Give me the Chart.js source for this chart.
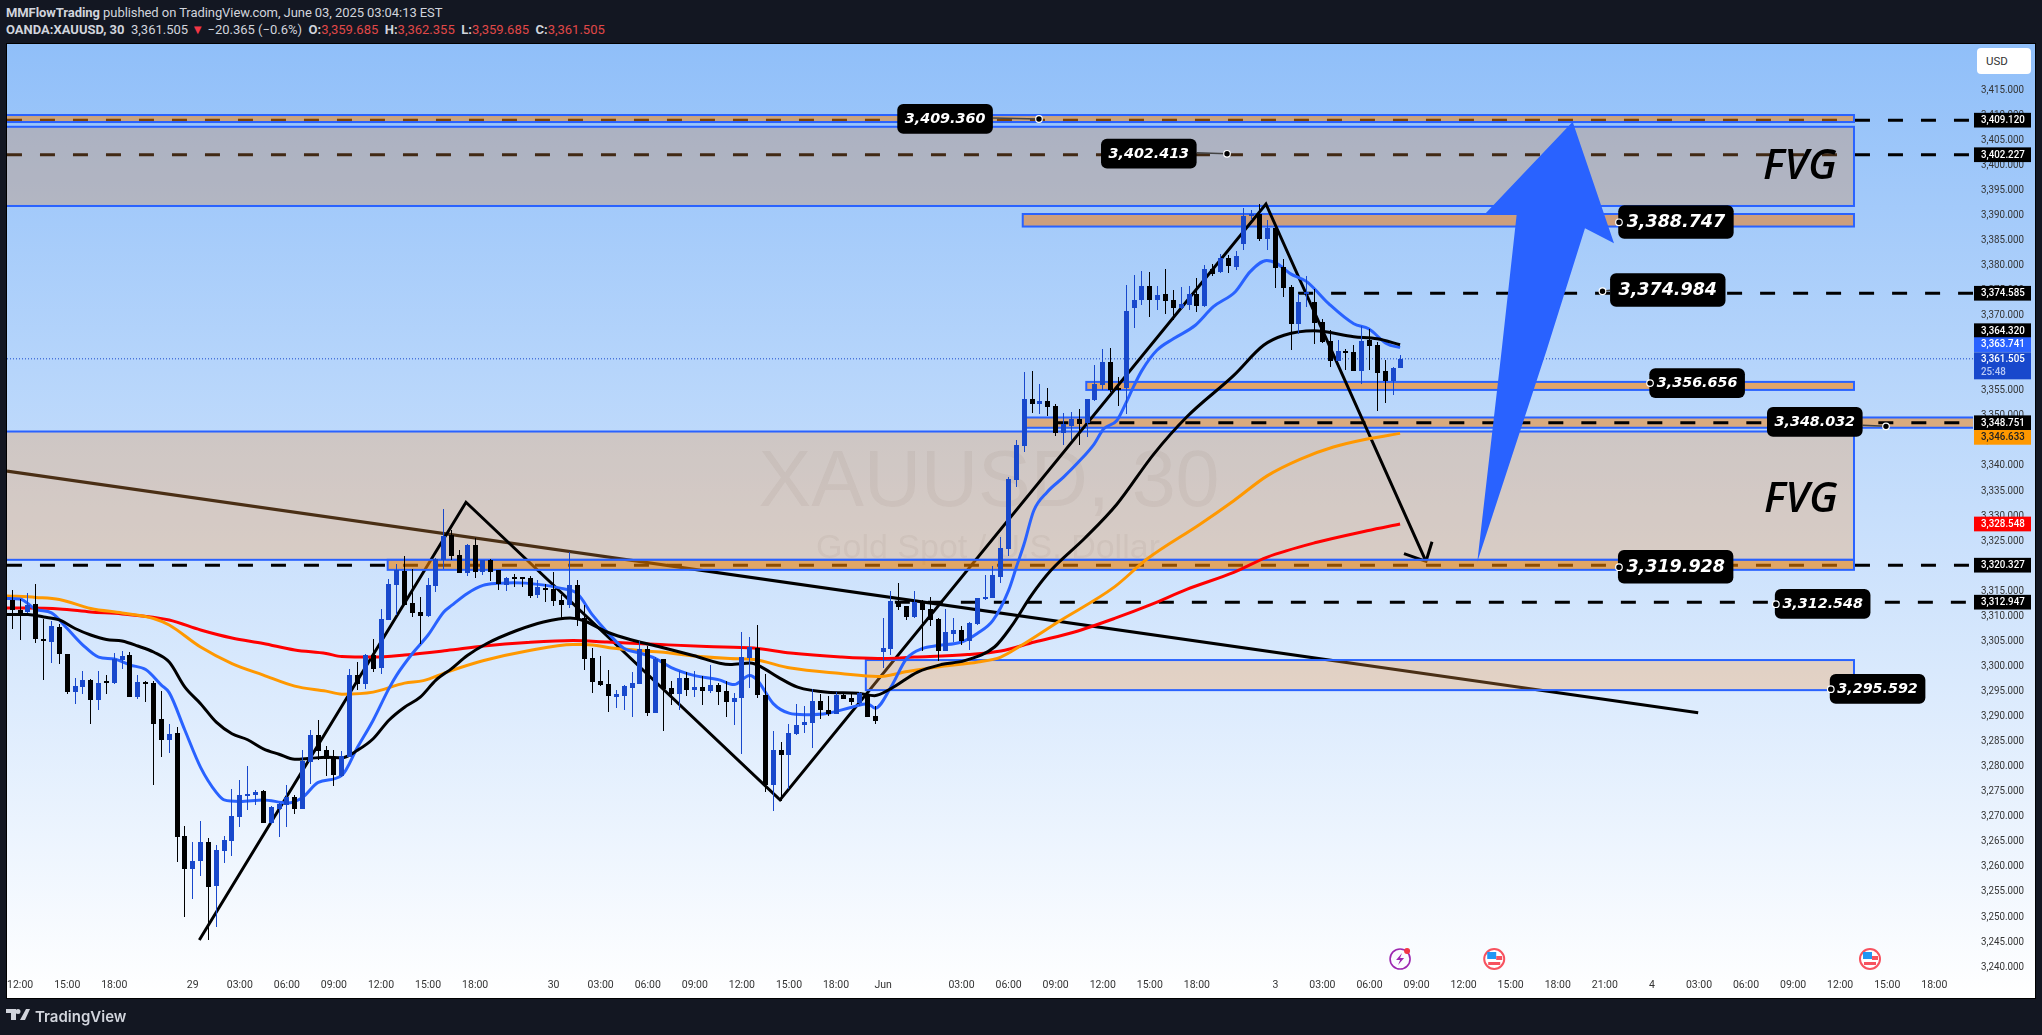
<!DOCTYPE html>
<html>
<head>
<meta charset="utf-8">
<title>XAUUSD 30</title>
<style>
html, body { margin: 0; padding: 0; background: #131722; width: 2042px; height: 1035px; overflow: hidden; }
#panel { position: absolute; left: 6px; top: 43px; width: 2028px; height: 954px; border: 1px solid #000;
	background: linear-gradient(to bottom, #90bff9 0%, #ffffff 100%); }
#chart { position: absolute; left: 0; top: 0; }
.head { position: absolute; left: 6px; font: 13px Roboto, sans-serif; color: #d1d4dc; white-space: nowrap; }
.head b { font-weight: 700; }
.head i { font-style: normal; color: #e04848; }
#usd { position: absolute; left: 1977px; top: 48px; width: 54px; height: 26px; background: #fff; border-radius: 4px;
	font: 11.5px Roboto, sans-serif; color: #333; line-height: 26px; text-indent: 9px; }
#logo { position: absolute; left: 6px; top: 1006px; }
#brand { position: absolute; left: 35px; top: 1007px; font: 600 15px Inter, sans-serif; color: #d1d4dc; }
</style>
</head>
<body>
<div id="panel"></div>
<div class="head" style="top:5px;letter-spacing:-.07px"><b>MMFlowTrading</b> published on TradingView.com, June 03, 2025 03:04:13 EST</div>
<div class="head" style="top:22px"><b>OANDA:XAUUSD, 30</b>&nbsp; 3,361.505 <span style="color:#f23645">&#9660;</span> &minus;20.365 (&minus;0.6%) &nbsp;<b>O:</b><i>3,359.685</i> &nbsp;<b>H:</b><i>3,362.355</i> &nbsp;<b>L:</b><i>3,359.685</i> &nbsp;<b>C:</b><i>3,361.505</i></div>
<canvas id="chart" width="2042" height="1035"></canvas>
<div id="usd">USD</div>
<svg id="logo" width="24" height="16" viewBox="0 0 24 16"><path fill="#d1d4dc" d="M0 3h10v11H5V7H0zM20 3h4l-5 11h-5zM12 3a2.5 2.5 0 1 1 0 5 2.5 2.5 0 0 1 0-5z"/></svg>
<div id="brand">TradingView</div>
<script src="https://cdn.jsdelivr.net/npm/chart.js@4/dist/chart.umd.js"></script>
<script>
// candles, 30 min bars
const opens = [3313.4,3311.4,3310.9,3312.6,3305.5,3305.1,3307.9,3302.7,3295.0,3296.0,
	3297.4,3293.4,3297.0,3296.8,3301.4,3302.4,3294.0,3297.0,3296.8,3289.6,
	3285.4,3286.8,3266.2,3259.7,3261.4,3265.0,3256.3,3263.4,3265.3,3270.0,
	3274.2,3274.4,3275.2,3268.9,3271.6,3272.4,3274.0,3271.6,3281.0,3286.4,
	3283.4,3281.9,3278.2,3282.1,3298.4,3296.6,3302.4,3299.8,3309.4,3316.3,
	3319.1,3312.7,3310.9,3310.1,3316.1,3321.4,3326.3,3322.3,3318.7,3324.3,
	3318.9,3321.3,3319.3,3316.3,3317.7,3317.9,3317.7,3314.3,3315.7,3315.5,
	3313.3,3312.3,3316.3,3309.7,3301.9,3297.3,3296.7,3294.1,3294.3,3295.9,
	3296.7,3303.7,3290.9,3301.7,3295.9,3294.7,3297.9,3295.5,3296.1,3295.3,
	3296.5,3295.3,3293.1,3293.9,3301.9,3303.9,3294.5,3276.5,3283.5,3282.5,
	3286.7,3288.5,3288.9,3293.3,3291.5,3290.7,3294.5,3293.9,3292.9,3294.5,
	3290.3,3303.1,3303.7,3313.1,3312.1,3309.9,3312.9,3311.5,3309.5,3303.3,
	3306.5,3307.3,3305.3,3308.5,3313.5,3313.7,3317.9,3323.6,3337.4,3344.2,
	3353.4,3352.4,3353.0,3352.0,3346.8,3348.2,3349.4,3348.6,3353.2,3356.2,
	3360.8,3355.7,3355.6,3371.6,3373.2,3376.0,3373.2,3374.4,3373.2,3371.6,
	3372.2,3374.4,3372.0,3379.4,3378.8,3381.6,3379.8,3384.4,3390.0,3390.4,
	3385.4,3387.6,3379.8,3375.8,3368.4,3374.4,3372.8,3368.8,3365.0,3361.0,
	3362.8,3362.8,3359.0,3365.2,3364.2,3359.0,3357.0,3359.685];
const closes = [3311.3,3310.7,3312.4,3305.7,3305.2,3308.2,3302.6,3295.0,3296.2,3297.4,
	3293.4,3296.8,3296.8,3301.6,3302.2,3294.0,3297.0,3296.7,3288.6,3285.4,
	3286.6,3266.1,3259.7,3261.4,3265.0,3256.1,3263.6,3265.4,3270.2,3274.4,
	3274.6,3275.0,3268.8,3272.0,3272.6,3274.0,3271.6,3281.3,3286.4,3283.2,
	3281.6,3278.4,3282.2,3298.4,3296.6,3302.4,3299.6,3309.6,3316.6,3319.3,
	3312.3,3310.7,3310.1,3316.3,3321.6,3326.1,3322.1,3318.7,3324.3,3318.9,
	3321.4,3318.9,3316.5,3317.7,3317.5,3317.5,3314.1,3315.9,3315.4,3313.1,
	3312.3,3316.3,3309.5,3301.7,3297.1,3296.5,3294.3,3294.7,3296.3,3296.9,
	3303.7,3290.9,3301.7,3295.7,3294.7,3297.9,3295.5,3296.1,3295.3,3296.5,
	3295.1,3293.1,3293.9,3302.1,3304.1,3294.5,3276.5,3283.5,3282.5,3286.9,
	3288.5,3289.1,3293.3,3291.5,3290.7,3294.5,3293.7,3293.1,3294.9,3290.1,
	3289.3,3303.9,3313.1,3311.9,3309.9,3312.9,3311.3,3309.3,3303.3,3306.9,
	3307.3,3305.3,3308.7,3313.7,3313.9,3318.3,3323.7,3337.6,3344.4,3353.4,
	3352.4,3353.0,3351.8,3346.8,3348.4,3349.4,3348.4,3353.4,3356.4,3360.8,
	3355.2,3355.2,3371.0,3373.2,3376.0,3373.2,3374.2,3373.0,3371.6,3372.4,
	3374.4,3372.0,3379.4,3378.5,3381.6,3380.0,3382.0,3390.0,3390.2,3385.4,
	3387.6,3379.6,3375.6,3368.4,3372.8,3374.8,3368.6,3364.8,3361.0,3363.0,
	3362.6,3359.0,3365.0,3364.0,3358.6,3357.0,3359.6,3361.505];
const highs = [3315.4,3313.6,3314.7,3316.6,3309.5,3309.2,3308.5,3302.7,3297.9,3299.2,
	3297.6,3299.2,3298.4,3302.9,3303.2,3303.1,3298.4,3297.3,3297.2,3295.2,
	3288.6,3288.0,3268.2,3265.0,3269.2,3265.8,3264.4,3266.2,3275.6,3277.4,
	3280.2,3275.4,3275.4,3272.2,3272.8,3276.4,3274.4,3283.4,3287.4,3289.4,
	3284.2,3283.4,3283.2,3299.6,3301.0,3302.6,3305.6,3311.6,3317.5,3320.6,
	3322.1,3319.5,3313.9,3317.7,3321.8,3331.5,3327.3,3323.3,3324.6,3325.8,
	3321.4,3321.5,3319.3,3317.9,3318.5,3318.0,3318.1,3317.3,3316.5,3318.9,
	3314.3,3322.9,3317.3,3312.3,3303.9,3302.3,3299.5,3295.5,3296.5,3299.0,
	3305.3,3304.3,3302.1,3301.7,3297.3,3299.3,3299.1,3299.3,3298.3,3300.5,
	3296.9,3297.3,3294.9,3306.9,3306.1,3308.3,3298.6,3287.3,3285.1,3288.7,
	3292.7,3292.3,3295.7,3294.7,3294.3,3295.1,3294.6,3294.9,3295.0,3294.9,
	3292.3,3309.7,3315.1,3316.7,3312.1,3315.1,3313.3,3313.9,3309.7,3311.5,
	3309.7,3308.1,3308.9,3313.8,3318.3,3320.1,3325.9,3338.0,3345.3,3358.8,
	3359.0,3356.4,3355.6,3352.5,3350.7,3350.8,3351.4,3353.4,3360.2,3363.4,
	3363.6,3357.9,3376.2,3378.2,3379.0,3378.8,3376.0,3379.4,3375.2,3375.8,
	3376.0,3377.6,3380.2,3380.4,3382.5,3382.2,3383.0,3391.6,3391.2,3392.4,
	3389.2,3387.6,3381.5,3376.2,3374.5,3378.0,3375.5,3369.5,3367.3,3365.2,
	3363.5,3364.2,3368.0,3367.4,3364.9,3361.2,3359.8,3362.355];
const lows = [3307.6,3305.4,3310.8,3304.9,3297.4,3300.8,3300.6,3294.7,3292.6,3294.6,
	3288.6,3291.4,3294.6,3296.6,3299.6,3294.0,3293.7,3293.0,3276.4,3282.0,
	3282.8,3261.2,3250.1,3253.8,3258.4,3245.5,3248.1,3261.0,3262.4,3268.0,
	3271.4,3272.4,3268.8,3268.7,3266.0,3268.0,3270.6,3271.6,3276.6,3281.4,
	3278.2,3276.2,3278.1,3282.0,3295.4,3295.6,3299.0,3298.6,3309.3,3310.3,
	3312.3,3310.0,3304.7,3309.9,3314.9,3319.6,3321.3,3318.7,3318.1,3317.7,
	3318.3,3317.1,3315.4,3315.2,3316.0,3316.0,3313.7,3313.7,3312.9,3312.1,
	3309.4,3311.7,3308.1,3299.5,3294.9,3296.3,3291.1,3291.9,3291.5,3290.1,
	3296.6,3290.3,3290.8,3287.3,3292.5,3291.5,3294.3,3294.1,3292.5,3294.9,
	3292.5,3290.1,3288.5,3282.7,3295.9,3293.9,3275.1,3271.3,3273.3,3275.6,
	3286.5,3286.9,3283.9,3289.7,3290.3,3290.7,3293.6,3292.5,3292.3,3290.1,
	3288.7,3299.9,3302.5,3311.4,3309.3,3309.7,3303.3,3308.1,3301.3,3303.3,
	3305.1,3304.5,3303.5,3308.4,3313.3,3313.7,3316.7,3322.2,3335.9,3343.0,
	3350.7,3350.5,3350.0,3346.2,3344.4,3345.3,3344.4,3346.0,3353.1,3355.2,
	3354.8,3352.0,3350.4,3367.6,3372.2,3369.8,3371.2,3370.4,3369.2,3371.4,
	3371.2,3370.8,3371.9,3378.0,3378.7,3378.6,3379.2,3383.2,3389.2,3385.0,
	3383.2,3375.6,3373.8,3363.2,3366.4,3371.9,3364.4,3364.7,3359.8,3361.0,
	3359.2,3359.0,3356.4,3359.2,3351.0,3352.6,3354.2,3359.685];

// moving averages, read at these bars
const blueBars = [-0.7,1,3,5,7,9,11,13,15,17,19,20,22,24,26,27,29,32,35,37,39,42,44,46,48,49,51,53,55,
	56,58,60,62,64,67,70,72,74,76,78,80,82,84,87,90,92,94,95,97,99,
	101,104,107,109,110,112,114,116,118,121,123,125,127,128,129,
	130.2,131.9,134,135.9,137.9,139.1,140.8,141.9,143,144,145.9,148,150.8,153.1,155.9,157.8,159.9,161.2,162.9,165,167.8,171,172.9,175.2,176.9];
const blueValues = [3313.7,3313.6,3311.5,3310.8,3307.7,3304.4,3302.0,3301.6,3300.4,3299.5,3296.4,3294.9,3287.4,3280.0,3275.0,3273.5,3273.2,3273.5,3272.9,3274.0,3277.0,3278.4,3284.0,3289.4,3295.7,3298.4,3302.7,3306.4,3311.0,
	3312.3,3314.7,3316.3,3316.7,3316.8,3316.5,3315.7,3314.7,3310.3,3306.7,3303.7,3302.8,3301.7,3299.9,3298.3,3297.5,3296.5,3298.3,3297.3,3292.7,3290.8,
	3290.5,3290.8,3292.0,3292.7,3291.8,3296.0,3301.7,3303.7,3304.3,3305.0,3306.7,3309.3,3315.3,3320.0,3324.7,
	3331.2,3334.9,3337.9,3340.9,3344.5,3347.5,3349.2,3352.5,3356.2,3359.2,3363.2,3365.5,3368.2,3371.9,3374.9,3378.9,3381.1,3380.5,3378.5,3376.9,3372.5,3368.5,3367.5,3364.5,3363.741];
const blackBars = [-0.7,2,4,6,8,10,12,14,16,18,20,22,24,26,28,30,32,34,36,38,40,42,44,46,48,50,52,54,56,58,60.5,64.3,67.7,71.1,72.8,75.8,79.2,82.6,86.8,91.5,94.1,95.5,97.6,100.1,103.9,107.8,109.9,112,115.4,118.4,121.4,125.2,127.3,129.9,132.4,136.7,140.8,145.5,149.7,155.7,159.5,162.1,165.9,171,174,176.9];
const blackValues = [3310.5,3310.5,3310.0,3309.4,3307.7,3306.4,3305.5,3305.2,3304.2,3303.0,3301.0,3296.0,3292.7,3289.0,3286.7,3285.5,3283.7,3282.6,3281.6,3281.8,3282.0,3281.9,3283.4,3285.7,3289.4,3292.0,3294.0,3297.4,3299.7,3302.3,3304.7,3307.3,3309.0,3309.8,3309.3,3307.0,3305.3,3304.0,3302.3,3300.5,3300.8,3300.0,3298.0,3296.0,3295.0,3294.8,3294.3,3295.7,3299.0,3300.5,3301.3,3304.0,3308.0,3314.3,3319.3,3325.7,3332.5,3342.5,3349.9,3358.2,3364.2,3366.2,3367.1,3365.9,3365.5,3364.32];
const orangeBars = [-0.7,3,6,10,14,18,20,24,28,32,36,40,42,46,50,52.4,55.4,60.1,65.6,71.5,73,77,82.6,87.7,91.5,94.5,99.2,105.6,110.3,114.1,118.4,123.1,126,128.6,133.3,140.5,144.6,151.4,155.7,160,164.2,168.4,172.7,176.9];
const orangeValues = [3314.2,3313.9,3313.5,3311.7,3310.8,3309.7,3308.4,3304.0,3300.7,3298.4,3296.2,3295.2,3294.6,3295.0,3296.8,3297.3,3299.0,3301.3,3303.2,3304.5,3304.5,3303.7,3303.0,3302.1,3301.7,3301.5,3299.8,3298.7,3298.1,3299.1,3300.1,3301.0,3302.0,3304.3,3309.0,3316.0,3321.5,3328.5,3333.2,3338.2,3341.5,3343.9,3345.5,3346.633];
const redBars = [-0.7,6,10,14,20,24,28,32,36,40,42,46,50,55.4,60.1,65.6,71.5,75.8,82.6,88.5,94.5,99.2,105.6,110.3,115,121.8,126,130.3,135.4,140.5,145.2,149.7,155.7,159.9,166.3,172.7,176.9];
const redValues = [3311.8,3311.6,3311.0,3310.6,3309.4,3307.4,3305.8,3304.7,3303.4,3302.7,3302.1,3302.0,3302.4,3303.3,3304.2,3304.9,3305.3,3305.0,3304.5,3304.1,3303.8,3302.8,3302.0,3301.7,3302.0,3302.5,3303.2,3305.0,3307.0,3309.7,3312.5,3315.5,3318.9,3321.9,3324.9,3327.2,3328.548];

// drawn trend lines
const zigzagBars = [23.84,57.83,97.86,159.8,180.2];
const zigzagPrices = [3245.55,3332.88,3273.5,3392.4,3321.1];
const arrowHeadBars = [177.4,180.2,180.97];
const arrowHeadPrices = [3322.64,3321.1,3325];
const trendBars = [-0.68,214.9];
const trendPrices = [3339.1,3290.9];

// dashed levels
const levelPrices = [3409.12,3402.227,3374.585,3348.751,3320.327,3312.947];
const levelStarts = [-0.68,-0.68,163.9,132.7,-0.68,112.5];

// zones: from bar, to bar, high, low
const zoneFrom = [-2,-2,128.8,136.9,-2,47.85,108.8];
const zoneTo = [234.76,234.76,234.76,234.76,234.76,234.76,234.76];
const zoneHigh = [3410.15,3407.8,3390.4,3356.9,3347.0,3321.4,3301.4];
const zoneLow = [3408.75,3392.0,3387.9,3355.3,3321.4,3319.4,3295.4];
const zoneFill = ["rgba(254,132,0,.5)","rgba(215,137,66,.3)","rgba(245,115,0,.5)","rgba(253,132,7,.6)","rgba(245,157,70,.3)","rgba(237,127,0,.6)","rgba(245,157,70,.3)"];
const wideZoneFrom = 128.9, wideZoneTo = 252, wideZoneHigh = 3349.8, wideZoneLow = 3347.75;

// big blue arrow outline
const bigArrowBars = [186.74,195.59,200.47,204.17,198.9,187.6,191.77,189.85];
const bigArrowPrices = [3320.97,3363.27,3387.55,3384.55,3408.81,3390.2,3390.4,3363.27];

// callouts
const calloutPrices = [3409.36,3402.413,3388.747,3374.984,3356.656,3348.032,3319.928,3312.548,3295.592];
const calloutBars = [130.87,154.84,204.8,202.7,208.76,238.84,204.8,224.8,231.8];
const calloutLeft = [-141.7,-126,-0.7,7.6,-0.7,-119,-1,-1,-1];
const calloutTop = [-15,-15,-17,-18,-14.8,-19.3,-17.2,-15.2,-15.2];
const calloutBig = [0,0,1,1,0,0,1,0,0];

// price scale tags
const tagPrices = [3409.12,3402.227,3374.585,3364.32,3363.741,3361.505,3348.751,3346.633,3328.548,3320.327,3312.947];
const tagColors = ["#000","#000","#000","#000","#2962ff","#1848cc","#000","#ff9800","#ff0000","#000","#000"];
const tagNudge = [0,0,0,-14,-3,7,0,4,0,0,0];

const priceTicks = [3240,3245,3250,3255,3260,3265,3270,3275,3280,3285,3290,3295,3300,3305,3310,3315,3320,3325,3330,3335,3340,3345,3350,3355,3360,3365,3370,3375,3380,3385,3390,3395,3400,3405,3410,3415];
const tickBars = [1,7,13,23,29,35,41,47,53,59,69,75,81,87,93,99,105,111,121,127,133,139,145,151,161,167,173,179,185,191,197,203,209,215,221,227,233,239,245];
const tickLabels = ["12:00","15:00","18:00","29","03:00","06:00","09:00","12:00","15:00","18:00","30","03:00","06:00","09:00","12:00","15:00","18:00","Jun","03:00","06:00","09:00","12:00","15:00","18:00","3","03:00","06:00","09:00","12:00","15:00","18:00","21:00","4","03:00","06:00","09:00","12:00","15:00","18:00"];
const eventBars = [176.9,188.9,236.8];
const eventKinds = ["flash","flag","flag"];

const X_MIN = -0.6756, X_MAX = 249.93, Y_MIN = 3238.56, Y_MAX = 3424.32;
const AXIS_FONT = 'Roboto, sans-serif';
const BLUE = "#2962ff", CANDLE_BLUE = "#1848cc";
const LABEL_X = 1981, NARROW = 0.85; // price labels are narrower than any installed face

const money = v => v.toLocaleString("en-US", { minimumFractionDigits: 3, maximumFractionDigits: 3 });
const points = (xs, ys) => xs.map((x, i) => ({ x: x, y: ys[i] }));
const candleColors = opens.map((o, i) => closes[i] >= o ? CANDLE_BLUE : "#000");

function lineSet(label, xs, ys, color, width, order, extra) {
	return Object.assign({
		type: "line", label: label, data: points(xs, ys), borderColor: color, borderWidth: width,
		pointRadius: 0, fill: false, order: order, borderCapStyle: "butt"
	}, extra || {});
}

function drawBox(chart, k) {
	const ctx = chart.ctx, x = chart.scales.x, y = chart.scales.y;
	const l = x.getPixelForValue(zoneFrom[k]), r = x.getPixelForValue(zoneTo[k]);
	const t = y.getPixelForValue(zoneHigh[k]), b = y.getPixelForValue(zoneLow[k]);
	paintBox(chart, l, r, t, b, zoneFill[k]);
}

function paintBox(chart, l, r, t, b, fill) {
	const ctx = chart.ctx;
	ctx.save();
	ctx.beginPath();
	ctx.rect(chart.chartArea.left, chart.chartArea.top, chart.chartArea.width, chart.chartArea.height);
	ctx.clip();
	ctx.fillStyle = fill;
	ctx.fillRect(l, t, r - l, b - t);
	ctx.strokeStyle = BLUE;
	ctx.lineWidth = 2;
	ctx.strokeRect(l, t, r - l, b - t);
	ctx.restore();
}

function roundBox(ctx, x, y, w, h, r) {
	ctx.beginPath();
	ctx.roundRect(x, y, w, h, r);
	ctx.fill();
}

function drawEvent(ctx, cx, cy, kind) {
	ctx.save();
	if (kind === "flash") {
		ctx.strokeStyle = "#9c27b0";
		ctx.lineWidth = 1.6;
		ctx.beginPath(); ctx.arc(cx, cy, 10, 0, Math.PI * 2); ctx.stroke();
		ctx.beginPath();
		ctx.moveTo(cx + 2, cy - 6); ctx.lineTo(cx - 4, cy + 1); ctx.lineTo(cx, cy + 1); ctx.lineTo(cx - 2, cy + 6);
		ctx.lineTo(cx + 4, cy - 1); ctx.lineTo(cx, cy - 1); ctx.closePath();
		ctx.fillStyle = "#9c27b0"; ctx.fill();
		ctx.fillStyle = "#f23645";
		ctx.beginPath(); ctx.arc(cx + 7, cy - 8, 3, 0, Math.PI * 2); ctx.fill();
	} else {
		ctx.strokeStyle = "#f7525f";
		ctx.lineWidth = 2;
		ctx.fillStyle = "#fff";
		ctx.beginPath(); ctx.arc(cx, cy, 10, 0, Math.PI * 2); ctx.fill(); ctx.stroke();
		ctx.fillStyle = "#2196f3"; ctx.fillRect(cx - 7, cy - 7, 9, 7);
		ctx.fillStyle = "#f7525f"; ctx.fillRect(cx + 2, cy - 3, 6, 4); ctx.fillRect(cx - 6, cy + 3, 12, 3);
	}
	ctx.restore();
}

const tvLayers = {
	id: "tvLayers",
	afterLayout(chart) {
		const scale = chart.scales.y;
		if (scale.narrowed) return;
		scale.narrowed = true;
		const drawLabels = scale.drawLabels;
		scale.drawLabels = function (area) {
			const ctx = this.ctx;
			ctx.save();
			ctx.translate(LABEL_X, 0);
			ctx.scale(NARROW, 1);
			ctx.translate(-LABEL_X, 0);
			drawLabels.call(this, area);
			ctx.restore();
		};
	},
	// wick and body edges land on whole pixels
	afterDatasetsUpdate(chart) {
		chart.data.datasets.forEach((ds, i) => {
			if (ds.type !== "bar") return;
			chart.getDatasetMeta(i).data.forEach(el => {
				el.x = Math.round(el.x - 0.5) + 0.5;
				el.y = Math.round(el.y);
				el.base = Math.round(el.base);
			});
		});
	},
	beforeDatasetsDraw(chart) {
		const ctx = chart.ctx, x = chart.scales.x, y = chart.scales.y;
		ctx.save();
		ctx.textAlign = "center";
		ctx.textBaseline = "middle";
		ctx.fillStyle = "rgba(60,60,80,.08)";
		ctx.font = '79px "Liberation Sans"';
		ctx.fillText("XAUUSD, 30", 989, 484);
		ctx.font = '34px "Liberation Sans"';
		ctx.fillText("Gold Spot / U.S. Dollar", 988, 549);
		ctx.restore();
		// these thin boxes stay below the drawings
		drawBox(chart, 2);
		drawBox(chart, 3);
		paintBox(chart, x.getPixelForValue(wideZoneFrom), x.getPixelForValue(wideZoneTo),
			y.getPixelForValue(wideZoneHigh), y.getPixelForValue(wideZoneLow), "rgba(247,125,0,.5)");
	},
	afterDatasetDraw(chart, args) {
		const boxes = chart.data.datasets[args.index].boxesAfter;
		if (boxes) boxes.forEach(k => drawBox(chart, k));
	},
	afterDatasetsDraw(chart) {
		const ctx = chart.ctx, x = chart.scales.x, y = chart.scales.y;
		ctx.save();
		ctx.fillStyle = BLUE;
		ctx.beginPath();
		bigArrowBars.forEach((b, i) => {
			const px = x.getPixelForValue(b), py = y.getPixelForValue(bigArrowPrices[i]);
			if (i === 0) ctx.moveTo(px, py); else ctx.lineTo(px, py);
		});
		ctx.closePath();
		ctx.fill();

		ctx.fillStyle = "#000";
		ctx.textAlign = "left";
		ctx.textBaseline = "alphabetic";
		ctx.font = 'italic 600 42px "Open Sans"';
		ctx.fillText("FVG", 1763, 179);
		ctx.fillText("FVG", 1764, 512);

		calloutPrices.forEach((p, i) => {
			const px = x.getPixelForValue(calloutBars[i]), py = y.getPixelForValue(p);
			const big = calloutBig[i], w = big ? 115.4 : 95.6, h = big ? 33.4 : 29.7;
			const left = px + calloutLeft[i], top = py + calloutTop[i];
			if (calloutLeft[i] < -2 || calloutLeft[i] > 2) {
				ctx.strokeStyle = "#444";
				ctx.lineWidth = 1.5;
				ctx.beginPath();
				ctx.moveTo(calloutLeft[i] > 0 ? left : left + w, py - 1);
				ctx.lineTo(px, py);
				ctx.stroke();
			}
			ctx.fillStyle = "#000";
			roundBox(ctx, left, top, w, h, 6);
			ctx.fillStyle = "#fff";
			ctx.font = 'italic bold ' + (big ? 17.5 : 14.3) + 'px "DejaVu Sans"';
			ctx.textAlign = "center";
			ctx.textBaseline = "middle";
			ctx.fillText(money(p), left + w / 2, top + h / 2 + 0.5);
			ctx.fillStyle = "#000";
			ctx.strokeStyle = "#fff";
			ctx.lineWidth = 1.2;
			ctx.beginPath();
			ctx.arc(px, py, 3.3, 0, Math.PI * 2);
			ctx.fill();
			ctx.stroke();
		});
		eventBars.forEach((b, i) => drawEvent(ctx, x.getPixelForValue(b), 959, eventKinds[i]));
		ctx.restore();
	},
	afterDraw(chart) {
		const ctx = chart.ctx, y = chart.scales.y;
		ctx.save();
		ctx.textAlign = "left";
		ctx.textBaseline = "middle";
		tagPrices.forEach((p, i) => {
			const cy = y.getPixelForValue(p) + tagNudge[i];
			const tall = tagColors[i] === CANDLE_BLUE;
			const h = tall ? 27 : 14.7;
			ctx.fillStyle = tagColors[i];
			ctx.fillRect(1974, cy - h / 2, 57, h);
			ctx.save();
			ctx.translate(LABEL_X, cy);
			ctx.scale(NARROW, 1);
			ctx.fillStyle = tagColors[i] === "#ff9800" ? "#222" : "#fff";
			ctx.font = "500 11.5px " + AXIS_FONT;
			ctx.fillText(money(p), 0, tall ? -6.5 : 0);
			if (tall) {
				ctx.fillStyle = "#b9c9f4";
				ctx.fillText("25:48", 0, 6);
			}
			ctx.restore();
		});
		ctx.restore();
	}
};

const datasets = [
	// candles and averages sit above the boxes
	{ type: "bar", label: "bodies", data: opens.map((o, i) => ({ x: i, y: [Math.min(o, closes[i]), Math.max(o, closes[i])] })),
		backgroundColor: candleColors, barThickness: 5, minBarLength: 2, grouped: false, order: 1, inflateAmount: 0 },
	{ type: "bar", label: "wicks", data: lows.map((l, i) => ({ x: i, y: [l, highs[i]] })),
		backgroundColor: candleColors, barThickness: 1, grouped: false, order: 2, inflateAmount: 0 },
	lineSet("EMA black", blackBars, blackValues, "#000", 3, 3, { cubicInterpolationMode: "monotone" }),
	lineSet("EMA blue", blueBars, blueValues, BLUE, 3, 4, { cubicInterpolationMode: "monotone" }),
	lineSet("EMA orange", orangeBars, orangeValues, "#ff9800", 3, 5, { cubicInterpolationMode: "monotone" }),
	lineSet("EMA red", redBars, redValues, "#ff0000", 3, 6, { cubicInterpolationMode: "monotone" }),
	// drawings: the fair value boxes tint the trend line and the levels, the lower boxes also the zigzag
	lineSet("zigzag", zigzagBars, zigzagPrices, "#000", 3, 10, { boxesAfter: [5, 6] }),
	lineSet("zigzag head", arrowHeadBars, arrowHeadPrices, "#000", 3, 11),
	lineSet("trend", trendBars, trendPrices, "#000", 3, 12, { boxesAfter: [0, 1, 4] }),
	lineSet("last", [X_MIN, X_MAX], [3361.505, 3361.505], CANDLE_BLUE, 1, 20, { borderDash: [1, 2] })
];
levelPrices.forEach((p, i) => {
	datasets.push(lineSet("level " + p, [levelStarts[i], X_MAX], [p, p], "#000", 3, 13 + i, { borderDash: [15, 18] }));
});

new Chart(document.getElementById("chart"), {
	type: "bar",
	data: { datasets: datasets },
	plugins: [tvLayers],
	options: {
		responsive: false,
		animation: false,
		events: [],
		layout: { padding: { left: 7, top: 44, right: 0, bottom: 0 } },
		plugins: { legend: { display: false }, tooltip: { enabled: false } },
		scales: {
			x: {
				type: "linear", min: X_MIN, max: X_MAX, offset: false,
				grid: { display: false, drawTicks: false }, border: { display: false },
				afterBuildTicks(scale) { scale.ticks = tickBars.map(v => ({ value: v })); },
				afterFit(scale) { scale.height = 60; },
				ticks: {
					autoSkip: false, maxRotation: 0, padding: 4, color: "#333",
					font: { family: AXIS_FONT, size: 10.5 },
					callback: v => tickLabels[tickBars.indexOf(v)]
				}
			},
			y: {
				type: "linear", position: "right", min: Y_MIN, max: Y_MAX, beginAtZero: false,
				grid: { display: false, drawTicks: false }, border: { display: false },
				afterBuildTicks(scale) { scale.ticks = priceTicks.map(v => ({ value: v })); },
				afterFit(scale) { scale.width = 69; },
				ticks: {
					autoSkip: false, padding: 8, labelOffset: -1, color: "#333",
					font: { family: AXIS_FONT, size: 11.5 },
					callback: v => money(v)
				}
			}
		}
	}
});
</script>
</body>
</html>
